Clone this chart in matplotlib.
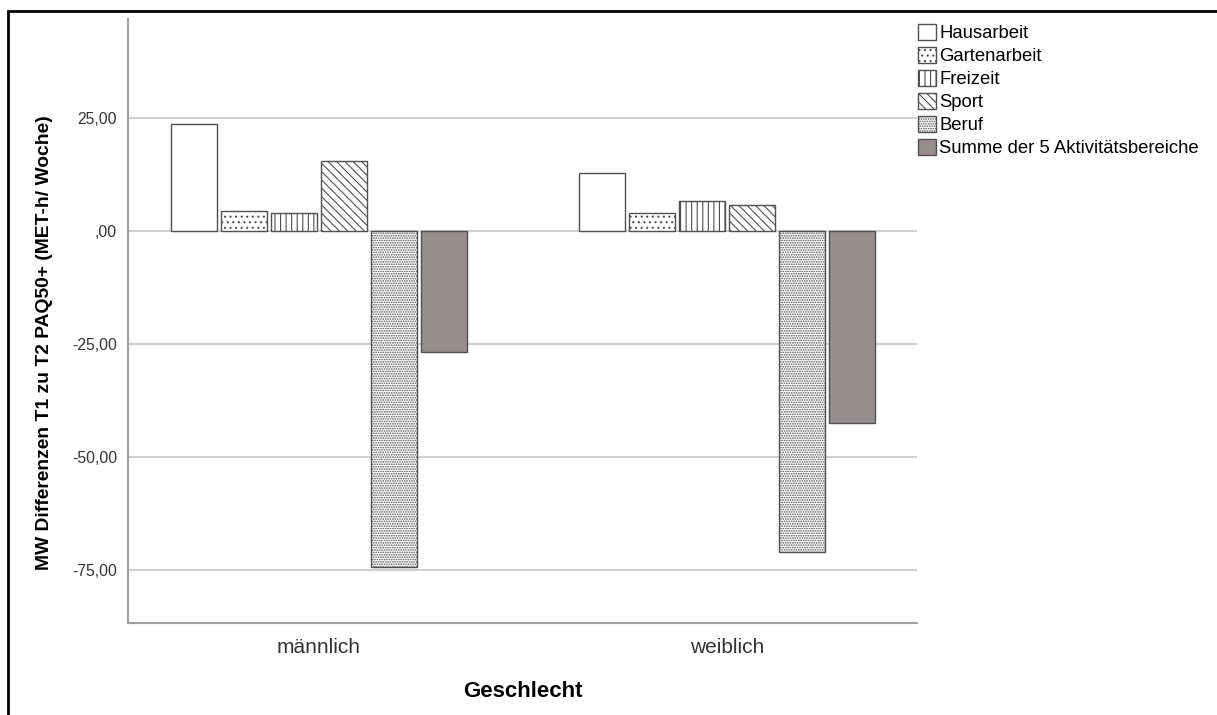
import numpy as np
import matplotlib.pyplot as plt
from matplotlib.patches import Rectangle, Patch

plt.rcParams['font.family'] = ['Liberation Sans', 'DejaVu Sans']
plt.rcParams['hatch.linewidth'] = 0.8

groups = ['männlich', 'weiblich']
series = ['Hausarbeit', 'Gartenarbeit', 'Freizeit', 'Sport', 'Beruf',
          'Summe der 5 Aktivitätsbereiche']
values = {
    'Hausarbeit': [23.6, 12.8],
    'Gartenarbeit': [4.4, 3.9],
    'Freizeit': [3.9, 6.7],
    'Sport': [15.5, 5.8],
    'Beruf': [-74.3, -71.1],
    'Summe der 5 Aktivitätsbereiche': [-26.8, -42.5],
}
yticks = [25, 0, -25, -50, -75]

hatches = ['', '...', '|||', '\\\\\\\\', '.......', '']
fills = ['white', 'white', 'white', 'white', 'white', '#948f8e']
edge = '#505050'

fig = plt.figure(figsize=(12.17, 7.15), dpi=100)
ax = fig.add_axes([128 / 1217, 1 - 623 / 715, (917 - 128) / 1217, (623 - 19) / 715])

x = np.arange(len(groups))
step = 0.1225
width = 0.113
for i, name in enumerate(series):
    offs = (i - (len(series) - 1) / 2) * step
    ax.bar(x + offs, values[name], width, color=fills[i], edgecolor=edge,
           hatch=hatches[i], linewidth=1.0, zorder=3)

ax.set_xlim(-0.468, 1.466)
ax.set_ylim(-86.7, 46.9)
ax.set_yticks(yticks)
ax.set_yticklabels([(f'{v:.2f}'.replace('.', ',') if v != 0 else ',00') for v in yticks])
ax.set_xticks(x)
ax.set_xticklabels(groups)
ax.yaxis.grid(True, color='#d0d0d0', linewidth=1.5, zorder=0)
ax.set_axisbelow(True)
for s in ['top', 'right']:
    ax.spines[s].set_visible(False)
for s in ['left', 'bottom']:
    ax.spines[s].set_color('#a0a0a0')
    ax.spines[s].set_linewidth(1.5)
ax.tick_params(axis='y', length=0, pad=8, labelsize=11.3, labelcolor='#333333')
ax.tick_params(axis='x', length=0, pad=11, labelsize=15, labelcolor='#333333')

ax.set_xlabel('Geschlecht', fontsize=16, fontweight='bold', labelpad=17)
fig.text(45 / 1217, 1 - 343 / 715, 'MW Differenzen T1 zu T2 PAQ50+ (MET-h/ Woche)',
         rotation=90, ha='center', va='center', fontsize=13.9, fontweight='bold')

handles = [Patch(facecolor=fills[i], edgecolor=edge, hatch=hatches[i], label=n)
           for i, n in enumerate(series)]
fig.legend(handles=handles, loc='upper left', bbox_to_anchor=(918 / 1217, 1 - 24 / 715),
           frameon=False, fontsize=13.3, handlelength=0.95, handleheight=0.95,
           handletextpad=0.2, labelspacing=0.25, borderaxespad=0, borderpad=0)

fig.patches.append(Rectangle((8 / 1217, -0.1), 1.2, 1 - 11 / 715 + 0.1,
                             transform=fig.transFigure, fill=False,
                             edgecolor='black', linewidth=2, clip_on=False))

fig.savefig('out.png', dpi=100)
